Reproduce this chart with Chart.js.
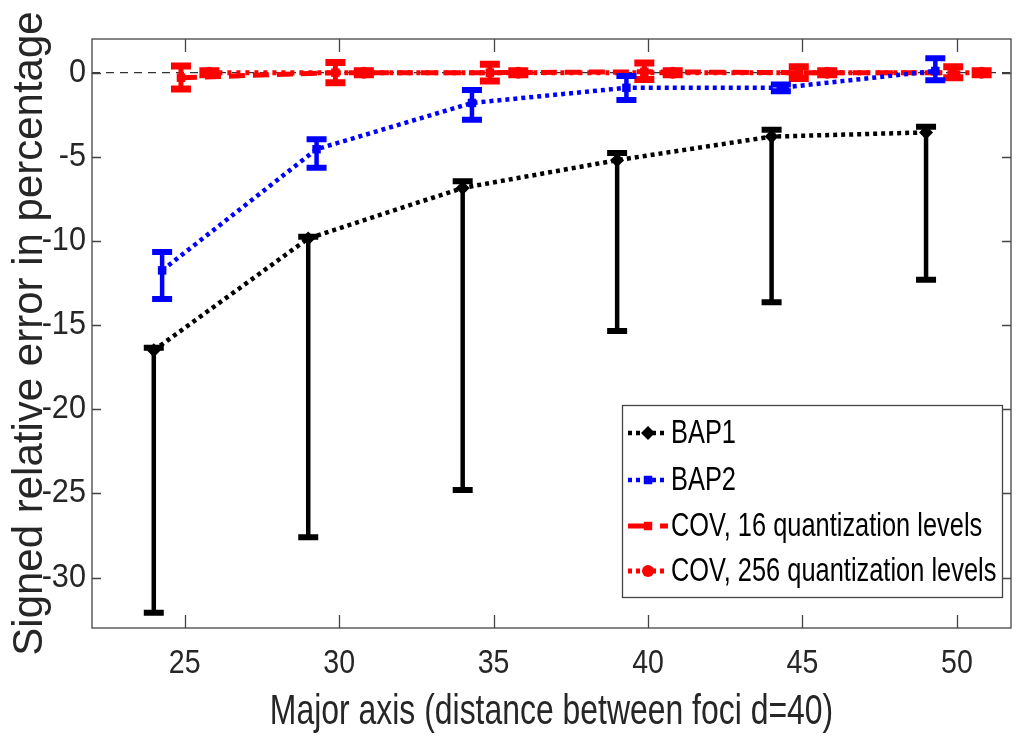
<!DOCTYPE html>
<html><head><meta charset="utf-8">
<script src="https://cdn.jsdelivr.net/npm/chart.js@4.4.1/dist/chart.umd.min.js"></script>
<style>html,body{margin:0;padding:0;background:#fff;overflow:hidden}#wrap{width:1018px;height:738px}</style>
</head><body><div id="wrap"><canvas id="c" width="1018" height="738"></canvas></div>
<script>
// ---- data ----
const xTicks = [25, 30, 35, 40, 45, 50];
const yTicks = [0, -5, -10, -15, -20, -25, -30];
const seriesNames = ['BAP1', 'BAP2', 'COV, 16 quantization levels', 'COV, 256 quantization levels'];
const xTitle = 'Major axis (distance between foci d=40)';
const yTitle = 'Signed relative error in percentage';

const bap1X = [24, 29, 34, 39, 44, 49];
const bap1Y = [-16.5, -9.85, -6.85, -5.2, -3.8, -3.55];
const bap1Low = [-32.1, -27.6, -24.8, -15.35, -13.65, -12.3];
const bap1High = [-16.35, -9.75, -6.45, -4.78, -3.4, -3.22];

const bap2X = [24.27, 29.27, 34.3, 39.3, 44.3, 49.3];
const bap2Y = [-11.75, -4.55, -1.8, -0.9, -0.9, 0.1];
const bap2Low = [-13.45, -5.65, -2.8, -1.62, -1.1, -0.45];
const bap2High = [-10.66, -3.95, -1.03, -0.2, -0.7, 0.85];

const cov16X = [24.88, 29.88, 34.88, 39.88, 44.88, 49.88];
const cov16Y = [-0.3, 0, 0, 0.05, 0, 0];
const cov16Low = [-0.97, -0.6, -0.5, -0.4, -0.35, -0.3];
const cov16High = [0.4, 0.6, 0.5, 0.58, 0.35, 0.35];

const cov256X = [25.8, 30.8, 35.8, 40.8, 45.8, 50.8];
const cov256Y = [0, 0, 0, 0, 0, 0];
const cov256Low = [-0.15, -0.15, -0.15, -0.15, -0.15, -0.15];
const cov256High = [0.15, 0.15, 0.15, 0.15, 0.15, 0.15];

const refX = [22, 51.75];
const refY = [0, 0];

// ---- fonts: condensed rendering via horizontal scale marker in the family list ----
const REG = "'Liberation Sans', Arial, sans-serif";
const cond = (f) => "'Liberation Sans', Arial, sqx" + f;

const canvas = document.getElementById('c');
const ctx0 = canvas.getContext('2d');
ctx0.fillText = function (text, x, y, maxWidth) {
  const m = /sqx(\d+)/.exec(this.font);
  if (!m) {
    if (maxWidth === undefined) return CanvasRenderingContext2D.prototype.fillText.call(this, text, x, y);
    return CanvasRenderingContext2D.prototype.fillText.call(this, text, x, y, maxWidth);
  }
  const f = Number(m[1]) / 100;
  this.save(); this.translate(x, y); this.scale(f, 1);
  CanvasRenderingContext2D.prototype.fillText.call(this, text, 0, 0);
  this.restore();
};

const pts = (xs, ys) => xs.map((x, i) => ({x: x, y: ys[i]}));

const datasets = [
  {label: seriesNames[0], data: pts(bap1X, bap1Y), errLow: bap1Low, errHigh: bap1High,
   borderColor: '#000', backgroundColor: '#000', borderWidth: 4.5, borderDash: [4, 4], legendDash: [4, 4],
   pointStyle: 'rectRot', pointRadius: 7, pointBorderWidth: 0, errWidth: 4.5, capThick: 6, capHalf: 10},
  {label: seriesNames[1], data: pts(bap2X, bap2Y), errLow: bap2Low, errHigh: bap2High,
   borderColor: '#0000ff', backgroundColor: '#0000ff', borderWidth: 4.5, borderDash: [4, 4], legendDash: [4, 4],
   pointStyle: 'rect', pointRadius: 6, pointBorderWidth: 0, errWidth: 4.5, capThick: 6, capHalf: 10},
  {label: seriesNames[2], data: pts(cov16X, cov16Y), errLow: cov16Low, errHigh: cov16High,
   borderColor: '#ff0000', backgroundColor: '#ff0000', borderWidth: 5, borderDash: [16, 8], legendDash: [22, 10],
   pointStyle: 'rect', pointRadius: 6, pointBorderWidth: 0, errWidth: 5, capThick: 7, capHalf: 10},
  {label: seriesNames[3], data: pts(cov256X, cov256Y), errLow: cov256Low, errHigh: cov256High,
   borderColor: '#ff0000', backgroundColor: '#ff0000', borderWidth: 5, borderDash: [4, 5], legendDash: [4, 4],
   pointStyle: 'circle', pointRadius: 6, pointBorderWidth: 0, errWidth: 5, capThick: 6, capHalf: 10},
  {label: 'zero', data: pts(refX, refY), borderColor: '#333', borderWidth: 1.3, borderDash: [8, 6],
   pointRadius: 0}
];
datasets.forEach(d => { d.showLine = true; d.tension = 0; d.borderCapStyle = 'butt'; d.fill = false; });

const errorBars = {
  id: 'errorBars',
  beforeDatasetDraw(chart, args) {
    const ds = chart.data.datasets[args.index];
    if (!ds.errLow) return;
    const {ctx} = chart; const x = chart.scales.x, y = chart.scales.y;
    ctx.save();
    ctx.strokeStyle = ds.borderColor; ctx.setLineDash([]); ctx.lineCap = 'butt';
    ds.data.forEach((p, i) => {
      const px = x.getPixelForValue(p.x);
      const pl = y.getPixelForValue(ds.errLow[i]);
      const ph = y.getPixelForValue(ds.errHigh[i]);
      ctx.lineWidth = ds.errWidth;
      ctx.beginPath(); ctx.moveTo(px, pl); ctx.lineTo(px, ph); ctx.stroke();
      ctx.lineWidth = ds.capThick;
      ctx.beginPath();
      ctx.moveTo(px - ds.capHalf, pl); ctx.lineTo(px + ds.capHalf, pl);
      ctx.moveTo(px - ds.capHalf, ph); ctx.lineTo(px + ds.capHalf, ph);
      ctx.stroke();
    });
    ctx.restore();
  }
};

const boxTicks = {
  id: 'boxTicks',
  afterDatasetsDraw(chart) {
    const {ctx, chartArea: a} = chart; const x = chart.scales.x, y = chart.scales.y;
    ctx.save();
    ctx.strokeStyle = '#444'; ctx.lineWidth = 1.3; ctx.setLineDash([]);
    ctx.strokeRect(a.left, a.top, a.right - a.left, a.bottom - a.top);
    ctx.beginPath();
    x.ticks.forEach(t => {
      const px = Math.round(x.getPixelForValue(t.value)) + 0.5;
      ctx.moveTo(px, a.bottom); ctx.lineTo(px, a.bottom - 13);
      ctx.moveTo(px, a.top); ctx.lineTo(px, a.top + 13);
    });
    y.ticks.forEach(t => {
      const py = Math.round(y.getPixelForValue(t.value)) + 0.5;
      ctx.moveTo(a.left, py); ctx.lineTo(a.left + 9, py);
      ctx.moveTo(a.right, py); ctx.lineTo(a.right - 9, py);
    });
    ctx.stroke();
    ctx.restore();
  }
};

const boxLegend = {
  id: 'boxLegend',
  afterDraw(chart) {
    const {ctx} = chart;
    const L = 622, T = 405, R = 1002, B = 597;
    ctx.save();
    ctx.fillStyle = '#fff'; ctx.fillRect(L, T, R - L, B - T);
    ctx.strokeStyle = '#444'; ctx.lineWidth = 1.3; ctx.setLineDash([]);
    ctx.strokeRect(L + 0.5, T + 0.5, R - L, B - T);
    const rows = [433, 480, 526, 571];
    for (let i = 0; i < 4; i++) {
      const ds = chart.data.datasets[i]; const yy = rows[i];
      ctx.strokeStyle = ds.borderColor; ctx.lineWidth = ds.borderWidth; ctx.lineCap = 'butt';
      ctx.setLineDash(ds.legendDash);
      ctx.beginPath(); ctx.moveTo(628, yy); ctx.lineTo(668, yy); ctx.stroke();
      ctx.setLineDash([]);
      ctx.fillStyle = ds.backgroundColor;
      Chart.helpers.drawPoint(ctx, {pointStyle: ds.pointStyle, radius: ds.pointRadius, borderWidth: 0, rotation: 0}, 648, yy);
      ctx.fillStyle = '#000'; ctx.font = '33px ' + cond(77); ctx.textBaseline = 'middle'; ctx.textAlign = 'left';
      ctx.fillText(seriesNames[i], 671, yy + 1);
    }
    ctx.restore();
  }
};

new Chart(canvas, {
  type: 'scatter',
  data: {datasets: datasets},
  plugins: [errorBars, boxTicks, boxLegend],
  options: {
    responsive: false, animation: false, devicePixelRatio: 1,
    layout: {padding: {top: 39, left: 0, right: 0, bottom: 0}},
    plugins: {legend: {display: false}, tooltip: {enabled: false}},
    scales: {
      x: {
        type: 'linear', min: 22, max: 51.75,
        afterBuildTicks: s => { s.ticks = xTicks.map(v => ({value: v})); },
        afterFit: s => { s.height = 110; },
        grid: {display: false, drawTicks: false}, border: {display: false},
        ticks: {font: {family: cond(84), size: 34}, color: '#262626', padding: 15, maxRotation: 0, autoSkip: false},
        title: {display: true, text: xTitle, font: {family: cond(76), size: 42}, color: '#262626', padding: {top: 0, bottom: 0}}
      },
      y: {
        type: 'linear', min: -33, max: 2,
        afterBuildTicks: s => { s.ticks = yTicks.map(v => ({value: v})); },
        afterFit: s => { s.width = 92; },
        grid: {display: false, drawTicks: false}, border: {display: false},
        ticks: {font: {family: cond(93), size: 33}, color: '#262626', padding: 6, autoSkip: false},
        title: {display: true, text: yTitle, font: {family: REG, size: 42}, color: '#262626', padding: {top: 5, bottom: 0}}
      }
    }
  }
});
</script></body></html>
